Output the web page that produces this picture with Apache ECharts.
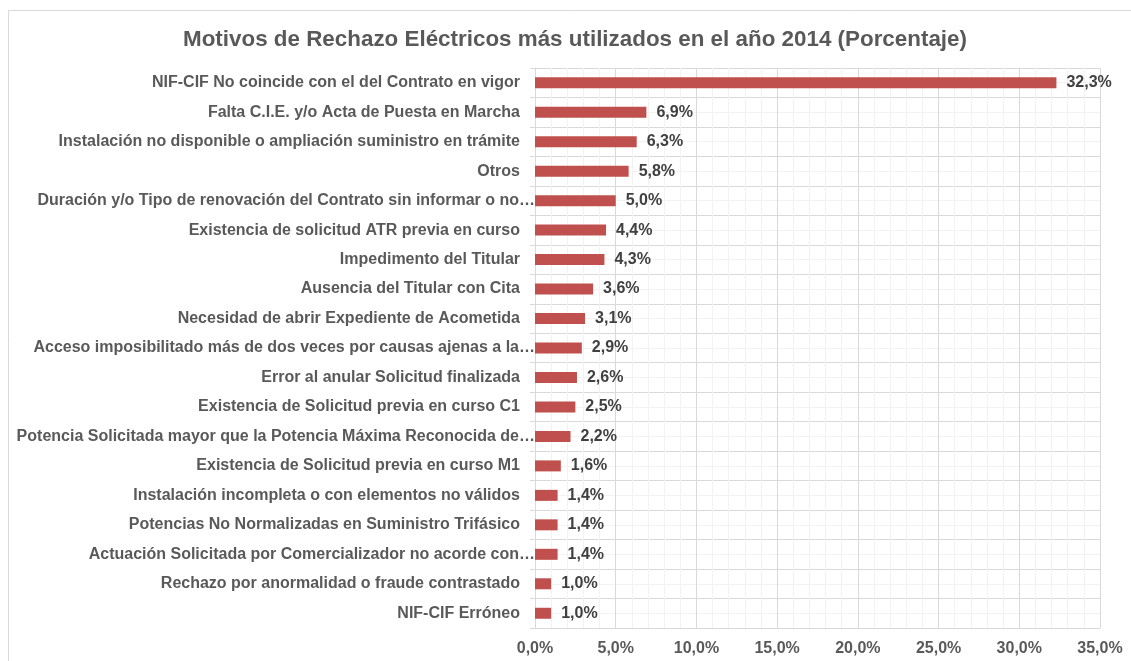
<!DOCTYPE html>
<html lang="es">
<head>
   <meta charset="UTF-8">
   <title>Motivos de Rechazo Eléctricos 2014</title>
   <script src="https://cdn.jsdelivr.net/npm/echarts@6/dist/echarts.min.js"></script>
   <style>
      html, body { margin: 0; padding: 0; background: #fff; }
      #container { width: 1131px; height: 661px; }
   </style>
</head>
<body>
   <div id="container"></div>
   <script>
      // motivos de rechazo, de mayor a menor
      var motivos = [
         'NIF-CIF No coincide con el del Contrato en vigor',
         'Falta C.I.E. y/o Acta de Puesta en Marcha',
         'Instalación no disponible o ampliación suministro en trámite',
         'Otros',
         'Duración y/o Tipo de renovación del Contrato sin informar o no…',
         'Existencia de solicitud ATR previa en curso',
         'Impedimento del Titular',
         'Ausencia del Titular con Cita',
         'Necesidad de abrir Expediente de Acometida',
         'Acceso imposibilitado más de dos veces por causas ajenas a la…',
         'Error al anular Solicitud finalizada',
         'Existencia de Solicitud previa en curso C1',
         'Potencia Solicitada mayor que la Potencia Máxima Reconocida de…',
         'Existencia de Solicitud previa en curso M1',
         'Instalación incompleta o con elementos no válidos',
         'Potencias No Normalizadas en Suministro Trifásico',
         'Actuación Solicitada por Comercializador no acorde con…',
         'Rechazo por anormalidad o fraude contrastado',
         'NIF-CIF Erróneo'
      ];
      var porcentajes = [32.3, 6.9, 6.3, 5.8, 5.0, 4.4, 4.3, 3.6, 3.1, 2.9, 2.6, 2.5, 2.2, 1.6, 1.4, 1.4, 1.4, 1.0, 1.0];

      var fmtPct = function (v) {
         return v.toFixed(1).replace('.', ',') + '%';
      };

      // los textos cortados llegan hasta el eje, los demas dejan un hueco
      var categorias = motivos.map(function (m) {
         var cortado = m.slice(-1) === '…';
         return { value: m, textStyle: { padding: cortado ? [0, 0, 0, 0] : [0, 15, 0, 0] } };
      });

      var myChart = echarts.init(document.getElementById('container'));

      var option = {
         animation: false,
         textStyle: { fontFamily: 'Liberation Sans, Arial, sans-serif' },
         title: {
            text: 'Motivos de Rechazo Eléctricos más utilizados en el año 2014 (Porcentaje)',
            left: 570,
            textAlign: 'center',
            top: 24,
            textStyle: { fontSize: 22.4, fontWeight: 'bold', color: '#595959' }
         },
         graphic: [{
            type: 'rect',
            shape: { x: 8.5, y: 10.5, width: 1140, height: 670 },
            style: { fill: 'none', stroke: '#D9D9D9', lineWidth: 1 },
            silent: true
         }],
         grid: { left: 535, right: 31, top: 68, bottom: 33 },
         xAxis: {
            type: 'value',
            min: 0,
            max: 35,
            interval: 5,
            axisLine: { show: false },
            axisTick: { show: false },
            axisLabel: {
               formatter: fmtPct,
               fontSize: 16,
               fontWeight: 'bold',
               color: '#595959',
               margin: 13
            },
            splitLine: { show: true, lineStyle: { color: '#D9D9D9' } },
            minorTick: { show: false, splitNumber: 5 },
            minorSplitLine: { show: true, lineStyle: { color: '#F2F2F2' } }
         },
         yAxis: [{
            type: 'category',
            data: categorias,
            inverse: true,
            axisLine: { show: true, lineStyle: { color: '#D9D9D9' } },
            axisTick: { show: true, length: 5, lineStyle: { color: '#D9D9D9' } },
            splitLine: { show: false },
            axisLabel: {
               margin: 0,
               fontSize: 16,
               fontWeight: 'bold',
               color: '#595959'
            }
         }, {
            type: 'value',
            min: 0,
            max: motivos.length,
            interval: 1,
            position: 'right',
            axisLine: { show: false },
            axisTick: { show: false },
            axisLabel: { show: false },
            splitLine: { show: true, lineStyle: { color: '#D9D9D9' } },
            minorTick: { show: false, splitNumber: 2 },
            minorSplitLine: { show: true, lineStyle: { color: '#F2F2F2' } }
         }],
         series: [{
            type: 'bar',
            yAxisIndex: 0,
            data: porcentajes,
            barWidth: 11,
            z: 5,
            itemStyle: { color: '#C0504D' },
            label: {
               show: true,
               position: 'right',
               distance: 10,
               formatter: function (p) { return fmtPct(p.value); },
               fontSize: 16,
               fontWeight: 'bold',
               color: '#404040'
            }
         }]
      };

      myChart.setOption(option);
   </script>
</body>
</html>
